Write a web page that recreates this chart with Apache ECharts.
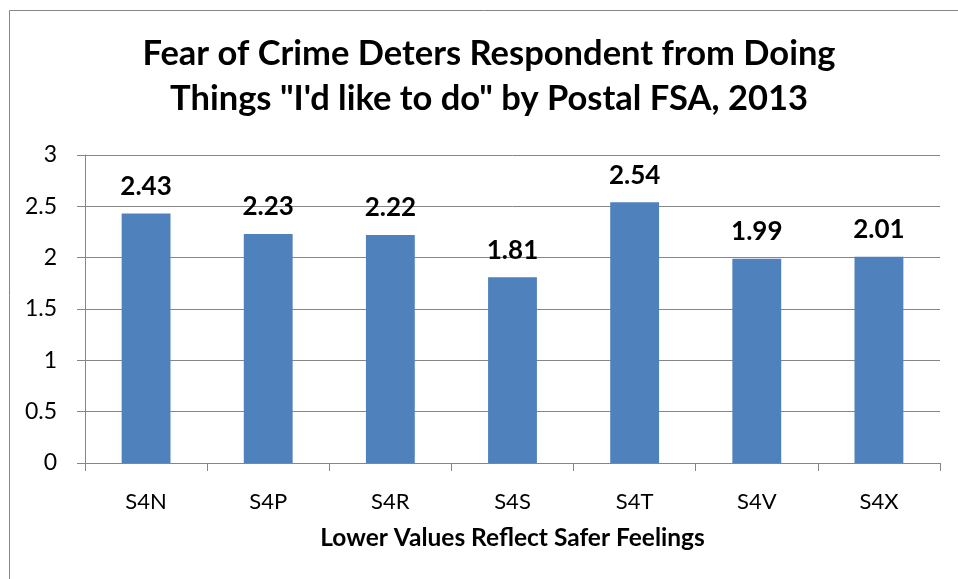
<!DOCTYPE html>
<html>
<head>
<meta charset="utf-8">
<script src="https://cdn.jsdelivr.net/npm/echarts@6/dist/echarts.min.js"></script>
<style>
  html, body { margin: 0; padding: 0; background: #fff; }
  #chart { width: 958px; height: 579px; }
</style>
</head>
<body>
<div id="chart"></div>
<script>
// Postal FSA areas and their mean fear-of-crime scores
const categories = ['S4N', 'S4P', 'S4R', 'S4S', 'S4T', 'S4V', 'S4X'];
const values = [2.43, 2.23, 2.22, 1.81, 2.54, 1.99, 2.01];

const titleText = 'Fear of Crime Deters Respondent from Doing\nThings "I\'d like to do" by Postal FSA, 2013';
const xAxisTitle = 'Lower Values Reflect Safer Feelings';

const FONT = 'Lato, "Open Sans", sans-serif';

const chart = echarts.init(document.getElementById('chart'), null, { renderer: 'canvas' });

chart.setOption({
  animation: false,
  backgroundColor: '#fff',
  graphic: [{
    type: 'rect',
    shape: { x: 9.5, y: 10.5, width: 1000, height: 1000 },
    style: { fill: 'none', stroke: '#868686', lineWidth: 1 },
    silent: true
  }],
  title: {
    text: titleText,
    left: 484,
    textAlign: 'center',
    top: 26,
    textStyle: {
      fontFamily: FONT,
      fontWeight: 'bold',
      fontSize: 34.5,
      lineHeight: 45,
      color: '#000'
    }
  },
  grid: { left: 85, right: 18, top: 155, bottom: 116, containLabel: false },
  xAxis: {
    type: 'category',
    data: categories,
    name: xAxisTitle,
    nameLocation: 'middle',
    nameGap: 63,
    nameTextStyle: { fontFamily: FONT, fontWeight: 'bold', fontSize: 24.5, color: '#000' },
    axisLine: { lineStyle: { color: '#868686', width: 1 } },
    axisTick: { show: true, length: 8, inside: false, lineStyle: { color: '#868686' } },
    axisLabel: { fontFamily: FONT, fontSize: 22, color: '#000', margin: 28 },
    splitLine: { show: false }
  },
  yAxis: {
    type: 'value',
    min: 0,
    max: 3,
    interval: 0.5,
    axisLine: { show: true, lineStyle: { color: '#868686', width: 1 } },
    axisTick: { show: true, length: 8, lineStyle: { color: '#868686' } },
    axisLabel: { fontFamily: FONT, fontSize: 23, color: '#000', margin: 28 },
    splitLine: { show: true, lineStyle: { color: '#868686', width: 1 } }
  },
  series: [{
    type: 'bar',
    data: values,
    barWidth: '40%',
    itemStyle: { color: '#4F81BD' },
    label: {
      show: true,
      position: 'top',
      distance: 14,
      fontFamily: FONT,
      fontWeight: 'bold',
      fontSize: 26,
      color: '#000',
      formatter: p => p.value.toFixed(2)
    }
  }]
});
</script>
</body>
</html>
